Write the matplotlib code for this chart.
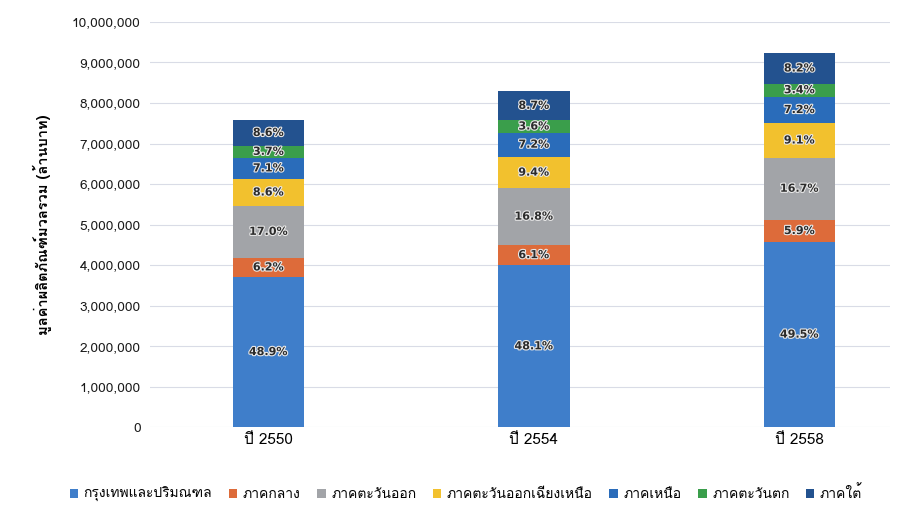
import numpy as np
import matplotlib
matplotlib.use("Agg")
import matplotlib.pyplot as plt
import matplotlib.patheffects as pe
from matplotlib.ticker import FuncFormatter
from matplotlib import font_manager

years = ['ปี 2550', 'ปี 2554', 'ปี 2558']
totals = [7580000, 8300000, 9230000]  # ล้านบาท, bar tops

regions = ['กรุงเทพและปริมณฑล', 'ภาคกลาง', 'ภาคตะวันออก',
           'ภาคตะวันออกเฉียงเหนือ', 'ภาคเหนือ', 'ภาคตะวันตก', 'ภาคใต้']

# share (%) of each region per year
bkk = [48.9, 48.1, 49.5]
central = [6.2, 6.1, 5.9]
east = [17.0, 16.8, 16.7]
northeast = [8.6, 9.4, 9.1]
north = [7.1, 7.2, 7.2]
west = [3.7, 3.6, 3.4]
south = [8.6, 8.7, 8.2]

colors = ['#3F7ECA', '#DD6B3A', '#A2A4A8', '#F2C12E', '#2A6CBA', '#3A9E4B', '#23528F']

# look for something that can draw Thai
thai_fonts = []
for f in font_manager.fontManager.ttflist:
    n = f.name
    if any(k in n for k in ['Thai', 'Garuda', 'Loma', 'Sarabun', 'Kinnari', 'Norasi', 'Waree', 'Tlwg', 'Umpush', 'Laksaman']):
        if n not in thai_fonts:
            thai_fonts.append(n)
plt.rcParams['font.family'] = thai_fonts + ['DejaVu Sans']

shares = np.array([bkk, central, east, northeast, north, west, south])
values = shares / 100.0 * np.array(totals)

fig, ax = plt.subplots(figsize=(9.05, 5.11), dpi=100)
fig.subplots_adjust(left=0.166, right=0.983, top=0.957, bottom=0.164)

x = np.arange(len(years))
bottom = np.zeros(len(years))
halo = [pe.withStroke(linewidth=1.6, foreground='#E8E8E8')]
for i, name in enumerate(regions):
    ax.bar(x, values[i], 0.27, bottom=bottom, color=colors[i], label=name,
           edgecolor='none', zorder=3)
    for j in range(len(years)):
        ax.text(x[j], bottom[j] + values[i][j] / 2, f'{shares[i][j]:.1f}%',
                ha='center', va='center', fontsize=8, fontweight='bold',
                color='#2B2B2B', path_effects=halo, zorder=4,
                family='DejaVu Sans')
    bottom += values[i]

ax.set_ylim(0, 10000000)
ax.set_yticks(np.arange(0, 10000001, 1000000))
ax.yaxis.set_major_formatter(FuncFormatter(lambda v, p: f'{int(v):,}'))
ax.set_xlim(-0.445, 2.34)
ax.set_xticks(x)
ax.set_xticklabels(years, fontsize=11)
ax.tick_params(axis='both', length=0)
ax.tick_params(axis='y', labelsize=9.8, colors='#1A1A1A', pad=7)
ax.tick_params(axis='x', pad=4)
ax.grid(axis='y', color='#D9DCE6', linewidth=0.8, zorder=0)
for s in ax.spines.values():
    s.set_visible(False)

ax.set_ylabel('มูลค่าผลิตภัณฑ์มวลรวม (ล้านบาท)', fontsize=10.5, fontweight='bold', labelpad=14)

ax.legend(loc='upper center', bbox_to_anchor=(0.427, -0.112), ncol=7, frameon=False,
          fontsize=10, handlelength=0.6, handleheight=0.6, handletextpad=0.4,
          columnspacing=1.2)

fig.savefig('out.png', dpi=100)
